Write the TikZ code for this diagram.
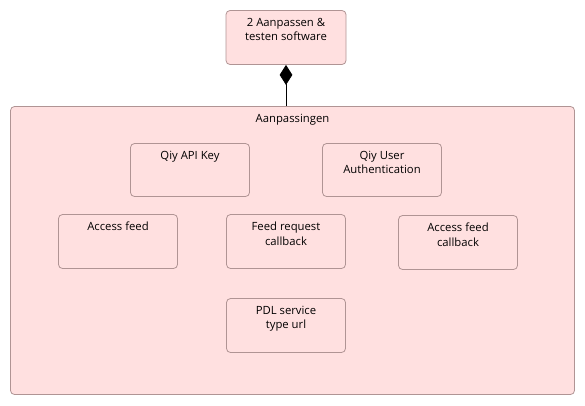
\documentclass[tikz,border=0pt]{standalone}
\usepackage{fontspec}
\setmainfont{Open Sans}
\usetikzlibrary{arrows.meta,calc}
\definecolor{boxfill}{HTML}{FFE0E0}
\definecolor{boxline}{HTML}{B09494}
\tikzset{
  elem/.style={draw=boxline, fill=boxfill, rounded corners=4pt, line width=0.8pt, inner sep=0pt,
    minimum width=119pt, minimum height=54pt},
  txt/.style={anchor=north, align=center, font=\fontsize{11.3}{14.6}\selectfont, inner sep=0pt, yshift=-7.6pt},
}
\begin{document}
\begin{tikzpicture}[x=1pt,y=-1pt]
\useasboundingbox (0,0) rectangle (585,405);
% container
\node[elem, minimum width=564pt, minimum height=288pt, label={[txt]north:Aanpassingen}] (cont) at (292.5,250.5) {};
% top element
\node[elem, minimum width=120pt, label={[txt]north:{2 Aanpassen \&\\testen software}}] (top) at (286,37.5) {};
% inner elements
\node[elem, minimum height=53pt, label={[txt]north:Qiy API Key}] (api) at (190,170) {};
\node[elem, minimum height=53pt, label={[txt]north:{Qiy User\\Authentication}}] (user) at (382,170) {};
\node[elem, label={[txt]north:Access feed}] (af) at (118,241.5) {};
\node[elem, label={[txt]north:{Feed request\\callback}}] (frc) at (286,241.5) {};
\node[elem, label={[txt]north:{Access feed\\callback}}] (afc) at (458,242.5) {};
\node[elem, label={[txt]north:{PDL service\\type url}}] (pdl) at (286,325.5) {};
% composition
\draw[line width=0.8pt, -{Diamond[width=12.7pt,length=20pt]}] (cont.north -| top.south) -- (top.south);
\end{tikzpicture}
\end{document}
